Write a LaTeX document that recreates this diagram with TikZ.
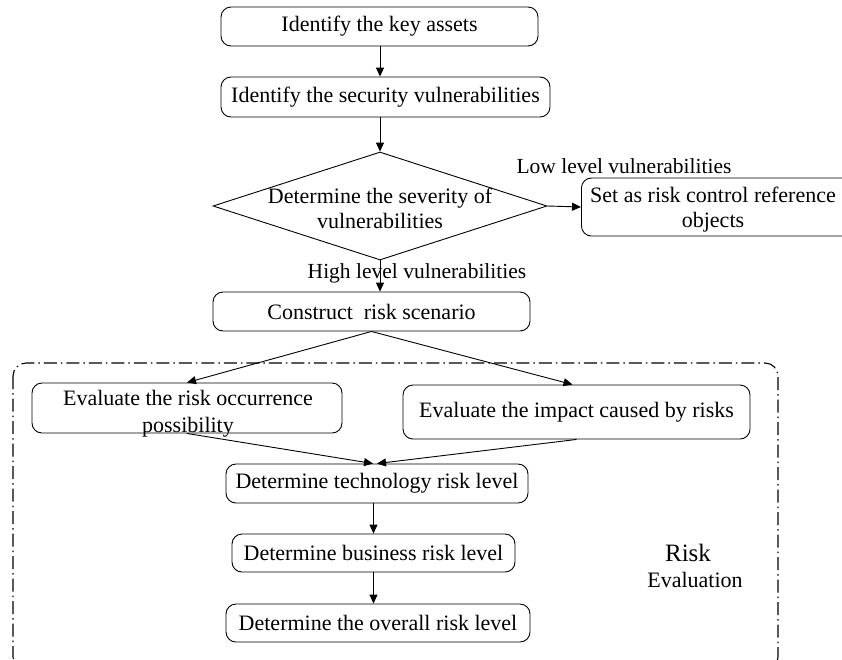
\documentclass[tikz,border=0pt]{standalone}
\usepackage{fontspec}
\setmainfont{Liberation Serif}
\usetikzlibrary{arrows.meta,shapes.geometric,calc}
\begin{document}
\begin{tikzpicture}[x=1pt,y=-1pt,
  box/.style={draw, rounded corners=10pt, line width=0.9pt, inner sep=0pt, align=center, font=\fontsize{22}{26}\selectfont},
  txt/.style={inner sep=0pt, align=center, font=\fontsize{22}{25}\selectfont},
  lab/.style={inner sep=0pt, font=\fontsize{21.5}{25}\selectfont},
  arr/.style={line width=0.9pt, -{Triangle[length=9pt,width=8pt]}},
  frame/.style={line width=1.1pt, dash pattern=on 13pt off 4pt on 1.5pt off 4pt, rounded corners=13pt}
]
\useasboundingbox (0,0) rectangle (842,659);
\clip (0,0) rectangle (842,659);
\node[box, minimum width=317, minimum height=39] (b1) at (379.5,26.5) {Identify the key assets};
\node[box, minimum width=329, minimum height=40] (b2) at (385.5,97) {Identify the security vulnerabilities};
\node[diamond, draw, line width=0.9pt, minimum width=334, minimum height=108, inner sep=0pt] (d) at (380,206) {};
\node[txt] (dt) at (380,208) {Determine the severity of\\vulnerabilities};
\node[box, anchor=west, minimum width=290, minimum height=58] (set) at (581,207) {};
\node[txt] (sett) at (713,210) {Set as risk control reference\\objects};
\node[lab, anchor=base] (low) at (624,173) {Low level vulnerabilities};
\node[lab, anchor=base] (high) at (417,278) {High level vulnerabilities};
\node[box, minimum width=317, minimum height=39] (cons) at (371.5,311.5) {Construct\ \ risk scenario};
\draw[frame] (13,363) rectangle (778,670);
\node[box, minimum width=310, minimum height=50] (le) at (187,408) {};
\node[txt, font=\fontsize{22}{27}\selectfont] (let) at (188,414) {Evaluate the risk occurrence\\possibility};
\node[box, minimum width=347, minimum height=54] (im) at (576.5,412) {Evaluate the impact caused by risks};
\node[box, minimum width=302, minimum height=39] (tech) at (377,483.5) {Determine technology risk level};
\node[box, minimum width=283, minimum height=38] (bus) at (373.5,553) {Determine business risk level};
\node[box, minimum width=304, minimum height=38] (ov) at (378,623) {Determine the overall risk level};
\node[font=\fontsize{25}{28}\selectfont, inner sep=0pt] (risk) at (688,553) {Risk};
\node[font=\fontsize{22}{26}\selectfont, inner sep=0pt] (eval) at (695,580) {Evaluation};
\draw[arr] (b1.south -| d.north) -- (b2.north -| d.north);
\draw[arr] (b2.south -| d.north) -- (d.north);
\draw[arr] (d.east) -- (set.west);
\draw[arr] (d.south) -- (d.south |- cons.north);
\draw[arr] (cons.south) -- (le.north);
\draw[arr] (cons.south) -- ([xshift=-4pt]im.north);
\draw[arr] (le.south) -- ([xshift=-4pt]tech.north);
\draw[arr] (im.south) -- (tech.north);
\draw[arr] (tech.south -| bus.north) -- (bus.north);
\draw[arr] (bus.south) -- (bus.south |- ov.north);
\end{tikzpicture}
\end{document}
